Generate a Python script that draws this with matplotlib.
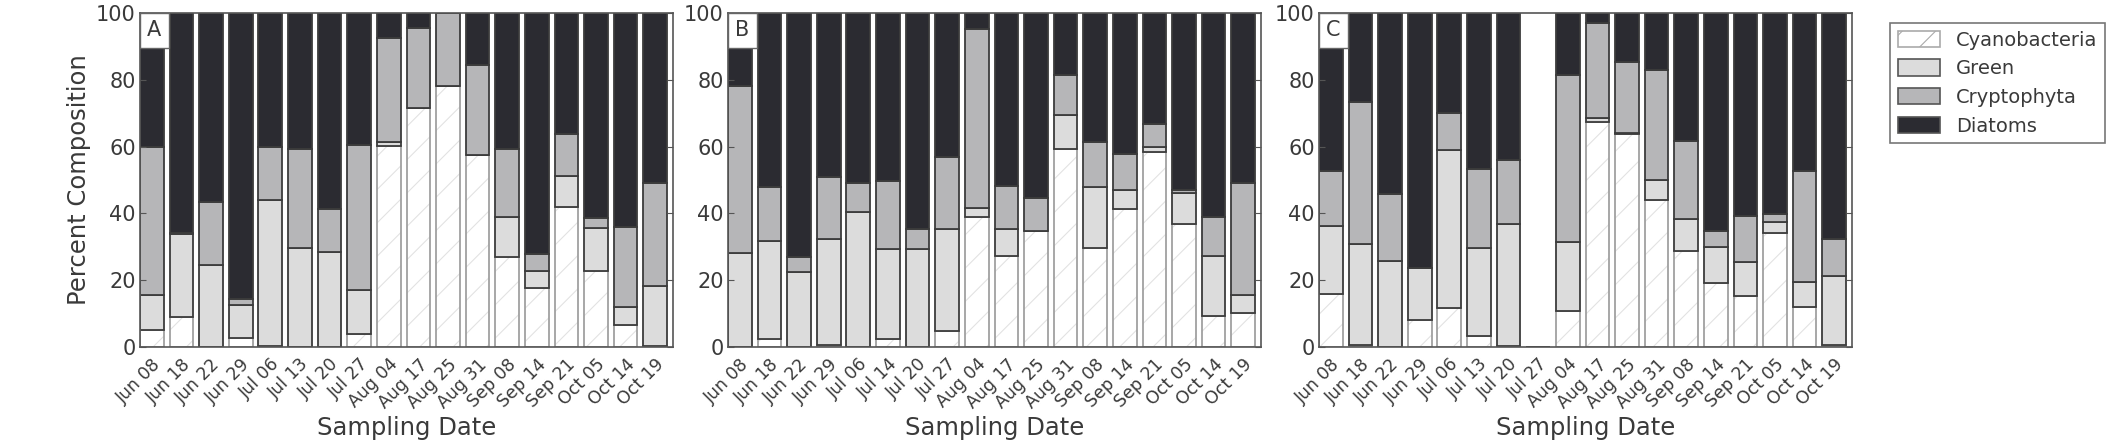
import numpy as np
import matplotlib
matplotlib.use('Agg')
import matplotlib.pyplot as plt
from matplotlib.patches import Patch
from matplotlib.offsetbox import AnchoredText

# percent composition per sampling date (cyano, green, crypto, diatoms)
datesA = ['Jun 08','Jun 18','Jun 22','Jun 29','Jul 06','Jul 13','Jul 20','Jul 27','Aug 04',
          'Aug 17','Aug 25','Aug 31','Sep 08','Sep 14','Sep 21','Oct 05','Oct 14','Oct 19']
datesB = ['Jun 08','Jun 18','Jun 22','Jun 29','Jul 06','Jul 14','Jul 20','Jul 27','Aug 04',
          'Aug 17','Aug 25','Aug 31','Sep 08','Sep 14','Sep 21','Oct 05','Oct 14','Oct 19']
datesC = ['Jun 08','Jun 18','Jun 22','Jun 29','Jul 06','Jul 13','Jul 20','Jul 27','Aug 04',
          'Aug 17','Aug 25','Aug 31','Sep 08','Sep 14','Sep 21','Oct 05','Oct 14','Oct 19']

cyanoA  = [5.0, 9.0, 0.0, 2.8, 0.3, 0.0, 0.0, 3.9, 60.2, 71.7, 78.2, 57.5, 26.8, 17.8, 41.8, 22.7, 6.7, 0.2]
greenA  = [10.7, 24.8, 24.5, 9.7, 43.7, 29.5, 28.3, 13.1, 1.3, 0.0, 0.0, 0.0, 12.2, 5.0, 9.5, 13.0, 5.3, 18.1]
cryptoA = [44.3, 0.2, 18.8, 1.9, 16.0, 29.8, 12.9, 43.5, 31.0, 23.9, 21.8, 26.9, 20.3, 5.0, 12.5, 2.8, 24.0, 30.9]
diatomA = [40.0, 66.0, 56.7, 85.6, 40.0, 40.7, 58.8, 39.5, 7.5, 4.4, 0.0, 15.6, 40.7, 72.2, 36.2, 61.5, 64.0, 50.8]

cyanoB  = [0.0, 2.5, 0.0, 0.5, 0.0, 2.5, 0.0, 4.8, 39.0, 27.3, 34.7, 59.3, 29.7, 41.2, 58.3, 36.7, 9.4, 10.2]
greenB  = [28.0, 29.3, 22.5, 31.8, 40.3, 26.7, 29.2, 30.6, 2.7, 7.9, 0.0, 10.2, 18.3, 5.8, 1.7, 9.3, 17.8, 5.4]
cryptoB = [50.2, 16.2, 4.5, 18.5, 8.9, 20.4, 6.0, 21.6, 53.6, 13.1, 9.8, 11.8, 13.3, 10.7, 6.7, 1.0, 11.6, 33.4]
diatomB = [21.8, 52.0, 73.0, 49.2, 50.8, 50.4, 64.8, 43.0, 4.7, 51.7, 55.5, 18.7, 38.7, 42.3, 33.3, 53.0, 61.2, 51.0]

cyanoC  = [16.0, 0.5, 0.0, 8.0, 11.8, 3.2, 0.3, 0.0, 10.7, 67.3, 63.7, 44.0, 28.7, 19.2, 15.2, 34.0, 12.0, 0.7]
greenC  = [20.3, 30.3, 25.8, 15.8, 47.2, 26.3, 36.4, 0.0, 20.6, 1.4, 0.3, 6.0, 9.5, 10.6, 10.3, 3.5, 7.5, 20.6]
cryptoC = [16.5, 42.7, 19.9, 0.0, 11.0, 23.8, 19.2, 0.0, 50.2, 28.3, 21.3, 33.0, 23.5, 5.0, 13.7, 2.3, 33.3, 10.9]
diatomC = [47.2, 26.5, 54.3, 76.2, 30.0, 46.7, 44.1, 0.0, 18.5, 3.0, 14.7, 17.0, 38.3, 65.2, 60.8, 60.2, 47.2, 67.8]

panels = [('A', datesA, cyanoA, greenA, cryptoA, diatomA),
          ('B', datesB, cyanoB, greenB, cryptoB, diatomB),
          ('C', datesC, cyanoC, greenC, cryptoC, diatomC)]

txt = '#3a3a3a'
plt.rcParams['font.family'] = 'DejaVu Sans'
plt.rcParams['hatch.linewidth'] = 0.8
plt.rcParams['text.color'] = txt
plt.rcParams['axes.labelcolor'] = txt
plt.rcParams['xtick.color'] = '#555555'
plt.rcParams['ytick.color'] = '#555555'
plt.rcParams['xtick.labelcolor'] = txt
plt.rcParams['ytick.labelcolor'] = txt

c_green = '#dcdcdc'
c_crypto = '#b6b6b8'
c_diatom = '#2b2b31'
edge = '#3c3c3c'

fig = plt.figure(figsize=(21.24, 4.46), dpi=100)
lefts = [140, 728, 1319]
w = 0.8

for k, (name, dates, cy, gr, cr, di) in enumerate(panels):
    ax = fig.add_axes([lefts[k]/2124., 1-347/446., 533/2124., 334/446.])
    x = np.arange(len(dates))
    cy = np.array(cy); gr = np.array(gr); cr = np.array(cr); di = np.array(di)
    # cyanobacteria: faint hatch, grey outline drawn on top
    ax.bar(x, cy, w, align='edge', color='white', edgecolor='#e2e2e2', hatch='/', lw=0)
    ax.bar(x, cy, w, align='edge', color='none', edgecolor='#a0a0a0', lw=1.3)
    ax.bar(x, gr, w, bottom=cy, align='edge', color=c_green, edgecolor=edge, lw=1.3)
    ax.bar(x, cr, w, bottom=cy+gr, align='edge', color=c_crypto, edgecolor=edge, lw=1.3)
    ax.bar(x, di, w, bottom=cy+gr+cr, align='edge', color=c_diatom, edgecolor=edge, lw=1.3)
    ax.set_xlim(0, len(dates))
    ax.set_ylim(0, 100)
    ax.set_xticks(x + w/2)
    ax.set_xticklabels(dates, rotation=45, ha='right', rotation_mode='anchor', fontsize=12.5)
    ax.set_yticks([0, 20, 40, 60, 80, 100])
    ax.tick_params(axis='y', labelsize=15, direction='in', right=True, length=4, pad=3)
    ax.tick_params(axis='x', direction='in', length=0, pad=6)
    for s in ax.spines.values():
        s.set_color('#555555')
        s.set_linewidth(1.2)
    ax.set_xlabel('Sampling Date', fontsize=17.5, labelpad=3)
    if k == 0:
        ax.set_ylabel('Percent Composition', fontsize=17.5, labelpad=4)
    at = AnchoredText(name, loc='upper left', prop=dict(size=15, color=txt), frameon=True,
                      borderpad=0, pad=0.35)
    at.patch.set_edgecolor('#666666')
    at.patch.set_linewidth(1.0)
    at.set_zorder(5)
    ax.add_artist(at)

handles = [Patch(facecolor='white', edgecolor='#aaaaaa', hatch='/', lw=1.2),
           Patch(facecolor=c_green, edgecolor='#555555', lw=1.2),
           Patch(facecolor=c_crypto, edgecolor='#555555', lw=1.2),
           Patch(facecolor=c_diatom, edgecolor='#555555', lw=1.2)]
leg = fig.legend(handles, ['Cyanobacteria', 'Green', 'Cryptophyta', 'Diatoms'],
                 loc='upper left', bbox_to_anchor=(1880/2124., 1-13/446.), fontsize=14,
                 fancybox=False, handlelength=2.2, handleheight=0.9, labelspacing=0.5,
                 borderpad=0.4, handletextpad=0.8)
leg.get_frame().set_edgecolor('#555555')
leg.get_frame().set_linewidth(1.2)

plt.savefig('out.png', dpi=100)
